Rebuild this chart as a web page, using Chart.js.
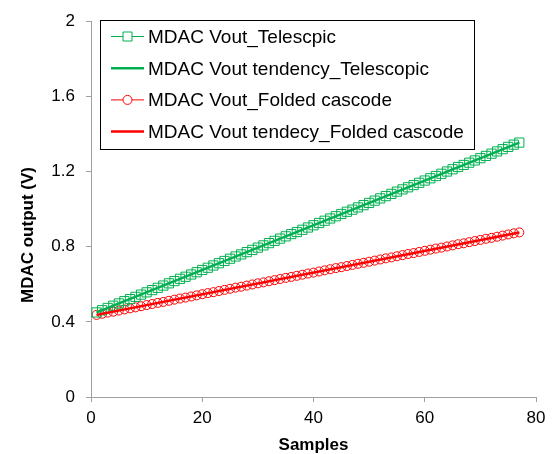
<!DOCTYPE html>
<html>
<head>
<meta charset="utf-8">
<script src="https://cdn.jsdelivr.net/npm/chart.js@4.4.1/dist/chart.umd.min.js"></script>
<style>
  html, body { margin: 0; padding: 0; background: #fff; }
  #wrap { width: 558px; height: 454px; }
</style>
</head>
<body>
<div id="wrap"><canvas id="chart" width="558" height="454"></canvas></div>
<script>
const samples = [1, 2, 3, 4, 5, 6, 7, 8, 9, 10, 11, 12, 13, 14, 15, 16, 17, 18, 19, 20,
  21, 22, 23, 24, 25, 26, 27, 28, 29, 30, 31, 32, 33, 34, 35, 36, 37, 38, 39, 40,
  41, 42, 43, 44, 45, 46, 47, 48, 49, 50, 51, 52, 53, 54, 55, 56, 57, 58, 59, 60,
  61, 62, 63, 64, 65, 66, 67, 68, 69, 70, 71, 72, 73, 74, 75, 76, 77];

const voutTelescopic = [0.450, 0.462, 0.474, 0.486, 0.498, 0.510, 0.521, 0.533, 0.545, 0.557,
  0.569, 0.581, 0.593, 0.605, 0.617, 0.629, 0.640, 0.652, 0.664, 0.676,
  0.688, 0.700, 0.712, 0.724, 0.736, 0.748, 0.759, 0.771, 0.783, 0.795,
  0.807, 0.819, 0.831, 0.843, 0.855, 0.867, 0.878, 0.890, 0.902, 0.914,
  0.926, 0.938, 0.950, 0.962, 0.974, 0.986, 0.997, 1.009, 1.021, 1.033,
  1.045, 1.057, 1.069, 1.081, 1.093, 1.105, 1.116, 1.128, 1.140, 1.152,
  1.164, 1.176, 1.188, 1.200, 1.212, 1.224, 1.235, 1.247, 1.259, 1.271,
  1.283, 1.295, 1.307, 1.319, 1.331, 1.343, 1.354];

const voutFolded = [0.437, 0.443, 0.449, 0.454, 0.460, 0.466, 0.472, 0.477, 0.483, 0.489,
  0.495, 0.501, 0.506, 0.512, 0.518, 0.524, 0.529, 0.535, 0.541, 0.547,
  0.553, 0.558, 0.564, 0.570, 0.576, 0.582, 0.587, 0.593, 0.599, 0.605,
  0.610, 0.616, 0.622, 0.628, 0.634, 0.639, 0.645, 0.651, 0.657, 0.662,
  0.668, 0.674, 0.680, 0.686, 0.691, 0.697, 0.703, 0.709, 0.714, 0.720,
  0.726, 0.732, 0.738, 0.743, 0.749, 0.755, 0.761, 0.766, 0.772, 0.778,
  0.784, 0.790, 0.795, 0.801, 0.807, 0.813, 0.818, 0.824, 0.830, 0.836,
  0.842, 0.847, 0.853, 0.859, 0.865, 0.871, 0.876];

// tendency (linear fit) lines, start and end
const trendSamples = [1, 77];
const trendTelescopic = [0.450, 1.354];
const trendFolded = [0.437, 0.876];

const seriesLabels = [
  "MDAC Vout_Telescpic",
  "MDAC Vout tendency_Telescopic",
  "MDAC Vout_Folded cascode",
  "MDAC Vout tendecy_Folded cascode"
];
const xTicks = [0, 20, 40, 60, 80];
const yTicks = [0, 0.4, 0.8, 1.2, 1.6, 2];
const xTitle = "Samples";
const yTitle = "MDAC output (V)";

const GREEN = "#00b050";
const RED = "#ff0000";
const AXIS = "#a0a0a0";
const FONT = "'Liberation Sans', Arial, sans-serif";

function toPoints(xs, ys) {
  return xs.map((x, i) => ({ x: x, y: ys[i] }));
}

// legend box drawn inside the plot, plus axis titles
const boxLegend = {
  id: "boxLegend",
  afterDraw(chart) {
    const ctx = chart.ctx;
    const area = chart.chartArea;
    ctx.save();
    ctx.strokeStyle = "#000";
    ctx.lineWidth = 1;
    ctx.strokeRect(100.5, 20.5, 374, 129);
    ctx.font = "19px " + FONT;
    ctx.textBaseline = "alphabetic";
    ctx.textAlign = "left";
    chart.data.datasets.forEach((ds, i) => {
      const base = 43 + i * 31.7;
      const my = base - 6.5;
      ctx.strokeStyle = ds.borderColor;
      ctx.lineWidth = ds.borderWidth;
      ctx.beginPath();
      ctx.moveTo(111, my);
      ctx.lineTo(144, my);
      ctx.stroke();
      if (ds.pointRadius > 0) {
        ctx.lineWidth = 1;
        ctx.fillStyle = "#fff";
        ctx.beginPath();
        if (ds.pointStyle === "rect") {
          ctx.rect(123, my - 4.5, 9, 9);
        } else {
          ctx.arc(127.5, my, 4.5, 0, Math.PI * 2);
        }
        ctx.fill();
        ctx.stroke();
      }
      ctx.fillStyle = "#000";
      ctx.fillText(ds.label, 148, base);
    });

    ctx.font = "bold 17px " + FONT;
    ctx.textAlign = "center";
    ctx.textBaseline = "alphabetic";
    ctx.fillText(xTitle, (area.left + area.right) / 2, 450);
    ctx.translate(33, 235);
    ctx.rotate(-Math.PI / 2);
    ctx.fillText(yTitle, 0, 0);
    ctx.restore();
  }
};

new Chart(document.getElementById("chart"), {
  type: "scatter",
  data: {
    datasets: [
      {
        label: seriesLabels[0],
        data: toPoints(samples, voutTelescopic),
        showLine: true,
        borderColor: GREEN,
        backgroundColor: "rgba(255,255,255,0)",
        borderWidth: 1,
        pointStyle: "rect",
        pointRadius: 6.5,
        pointBorderWidth: 1,
        order: 3
      },
      {
        label: seriesLabels[1],
        data: toPoints(trendSamples, trendTelescopic),
        showLine: true,
        borderColor: GREEN,
        borderWidth: 2.5,
        pointRadius: 0,
        order: 1
      },
      {
        label: seriesLabels[2],
        data: toPoints(samples, voutFolded),
        showLine: true,
        borderColor: RED,
        backgroundColor: "rgba(255,255,255,0)",
        borderWidth: 1,
        pointStyle: "circle",
        pointRadius: 4.5,
        pointBorderWidth: 1,
        order: 4
      },
      {
        label: seriesLabels[3],
        data: toPoints(trendSamples, trendFolded),
        showLine: true,
        borderColor: RED,
        borderWidth: 2.5,
        pointRadius: 0,
        order: 2
      }
    ]
  },
  options: {
    responsive: false,
    animation: false,
    layout: { padding: { left: 0, right: 22, top: 21, bottom: 0 } },
    plugins: {
      legend: { display: false },
      tooltip: { enabled: false }
    },
    scales: {
      x: {
        type: "linear",
        min: 0,
        max: 80,
        afterBuildTicks: s => { s.ticks = xTicks.map(v => ({ value: v })); },
        afterFit: s => { s.height = 57; },
        border: { color: AXIS, width: 1 },
        grid: { drawOnChartArea: false, drawTicks: true, tickLength: 5, color: AXIS },
        ticks: { color: "#000", padding: 6, maxRotation: 0, font: { family: FONT, size: 17 }, callback: v => String(v) }
      },
      y: {
        type: "linear",
        min: 0,
        max: 2,
        afterBuildTicks: s => { s.ticks = yTicks.map(v => ({ value: v })); },
        afterFit: s => { s.width = 91; },
        border: { color: AXIS, width: 1 },
        grid: { drawOnChartArea: false, drawTicks: true, tickLength: 5, color: AXIS },
        ticks: { color: "#000", padding: 11, font: { family: FONT, size: 17 }, callback: v => String(v) }
      }
    }
  },
  plugins: [boxLegend]
});
</script>
</body>
</html>
